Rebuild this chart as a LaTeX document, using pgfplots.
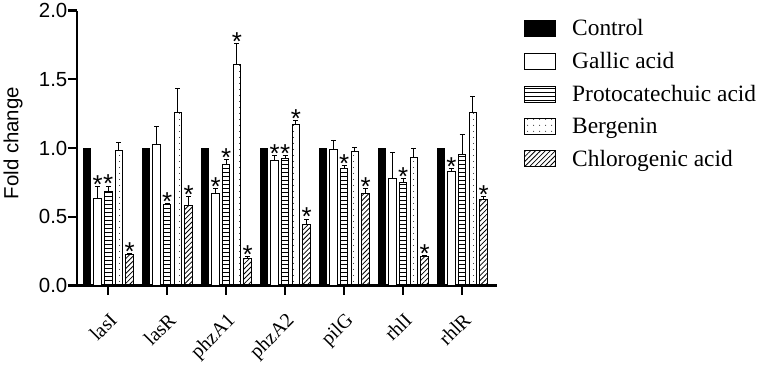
\documentclass[border=0pt]{standalone}
\usepackage{fontspec}
\setmainfont{Liberation Sans}
\newfontfamily\tnr{Liberation Serif}
\usepackage{pgfplots}
\pgfplotsset{compat=1.18}
\usepackage{pgfplotstable}
\usetikzlibrary{patterns.meta}

% group index: 0 lasI, 1 lasR, 2 phzA1, 3 phzA2, 4 pilG, 5 rhlI, 6 rhlR
\pgfplotstableread{
x y
0 1
1 1
2 1
3 1
4 1
5 1
6 1
}\control
\pgfplotstableread{
x y e
0 0.630 0.090
1 1.027 0.130
2 0.670 0.035
3 0.913 0.030
4 0.993 0.060
5 0.775 0.190
6 0.830 0.020
}\gallic
\pgfplotstableread{
x y e
0 0.683 0.040
1 0.590 0.005
2 0.880 0.035
3 0.927 0.020
4 0.852 0.020
5 0.749 0.026
6 0.952 0.148
}\proto
\pgfplotstableread{
x y e
0 0.980 0.060
1 1.260 0.170
2 1.608 0.150
3 1.172 0.030
4 0.974 0.030
5 0.930 0.070
6 1.262 0.114
}\bergenin
\pgfplotstableread{
x y e
0 0.225 0.008
1 0.584 0.065
2 0.200 0.010
3 0.443 0.040
4 0.670 0.035
5 0.213 0.005
6 0.629 0.018
}\chloro
% significance marks: top of error bar
\pgfplotstableread{
x y
0 0.720
2 0.705
3 0.943
6 0.850
}\gallicstar
\pgfplotstableread{
x y
0 0.723
1 0.595
2 0.915
3 0.947
4 0.872
5 0.775
}\protostar
\pgfplotstableread{
x y
2 1.758
3 1.202
}\bergeninstar
\pgfplotstableread{
x y
0 0.233
1 0.649
2 0.210
3 0.483
4 0.705
5 0.218
6 0.647
}\chlorostar

\begin{document}
\begin{tikzpicture}
\begin{axis}[
  name=ax,
  scale only axis, width=420bp, height=275bp,
  xmin=-0.53, xmax=6.59, ymin=0, ymax=2,
  axis x line*=bottom, axis y line*=left,
  axis line style={line width=2.2bp, black},
  tick align=outside, major tick length=9bp,
  tick style={line width=2.2bp, black},
  ybar, bar width=0.127,
  xtick={0,1,2,3,4,5,6},
  xticklabels={lasI,lasR,phzA1,phzA2,pilG,rhlI,rhlR},
  xticklabel style={font=\tnr\fontsize{20}{24}\selectfont, yshift=-17bp, rotate=45, anchor=north east, inner sep=0pt},
  ytick={0,0.5,1,1.5,2},
  yticklabel style={font=\fontsize{20.5}{24}\selectfont, inner xsep=0.5bp,
    /pgf/number format/.cd, fixed, fixed zerofill, precision=1, assume math mode=true},
  ylabel={Fold change},
  ylabel style={font=\fontsize{20.5}{24}\selectfont, at={(axis description cs:-0.152,0.518)}, anchor=center},
  legend style={at={(1,1)}, anchor=north west, xshift=27bp, yshift=-9bp,
    draw=none, fill=none, inner sep=0pt, row sep=15bp,
    font=\tnr\fontsize{23.5}{28}\selectfont,
    nodes={inner sep=0pt},
    /tikz/every odd column/.append style={column sep=16bp}},
  legend cell align=left,
  legend image code/.code={\draw[#1] (0bp,-8bp) rectangle (31bp,8bp);},
  nodes near coords style={font=\fontsize{26}{28}\selectfont, inner sep=0pt, anchor=south, yshift=-7bp},
]
\addplot[draw=black, line width=1bp, fill=black, bar shift=-0.362] table[x=x,y=y]{\control};
\addlegendentry{Control}
\addplot[draw=black, line width=1bp, fill=white, bar shift=-0.181,
  error bars/.cd, y dir=plus, y explicit,
  error bar style={line width=1bp, black},
  error mark options={rotate=90, mark size=2.5bp, line width=1bp, black}]
  table[x=x,y=y,y error=e]{\gallic};
\addlegendentry{Gallic acid}
\addplot[draw=black, line width=1bp, fill=white,
  pattern={Lines[angle=0, distance=4bp, line width=0.8bp]}, pattern color=black, bar shift=0,
  error bars/.cd, y dir=plus, y explicit,
  error bar style={line width=1bp, black},
  error mark options={rotate=90, mark size=2.5bp, line width=1bp, black}]
  table[x=x,y=y,y error=e]{\proto};
\addlegendentry{Protocatechuic acid}
\addplot[draw=black, line width=1bp, fill=white,
  pattern={Dots[distance=6bp, radius=0.55bp]}, pattern color=black, bar shift=0.181,
  error bars/.cd, y dir=plus, y explicit,
  error bar style={line width=1bp, black},
  error mark options={rotate=90, mark size=2.5bp, line width=1bp, black}]
  table[x=x,y=y,y error=e]{\bergenin};
\addlegendentry{Bergenin}
\addplot[draw=black, line width=1bp, fill=white,
  pattern={Lines[angle=45, distance=3.5bp, line width=0.8bp]}, pattern color=black, bar shift=0.362,
  error bars/.cd, y dir=plus, y explicit,
  error bar style={line width=1bp, black},
  error mark options={rotate=90, mark size=2.5bp, line width=1bp, black}]
  table[x=x,y=y,y error=e]{\chloro};
\addlegendentry{Chlorogenic acid}
% asterisks
\addplot[forget plot, draw=none, fill=none, bar shift=-0.181, nodes near coords={*}] table[x=x,y=y]{\gallicstar};
\addplot[forget plot, draw=none, fill=none, bar shift=0, nodes near coords={*}] table[x=x,y=y]{\protostar};
\addplot[forget plot, draw=none, fill=none, bar shift=0.181, nodes near coords={*}] table[x=x,y=y]{\bergeninstar};
\addplot[forget plot, draw=none, fill=none, bar shift=0.362, nodes near coords={*}] table[x=x,y=y]{\chlorostar};
\end{axis}
\path ([xshift=-77bp,yshift=-79bp]ax.south west) rectangle ([xshift=264bp,yshift=8bp]ax.north east);
\end{tikzpicture}
\end{document}
